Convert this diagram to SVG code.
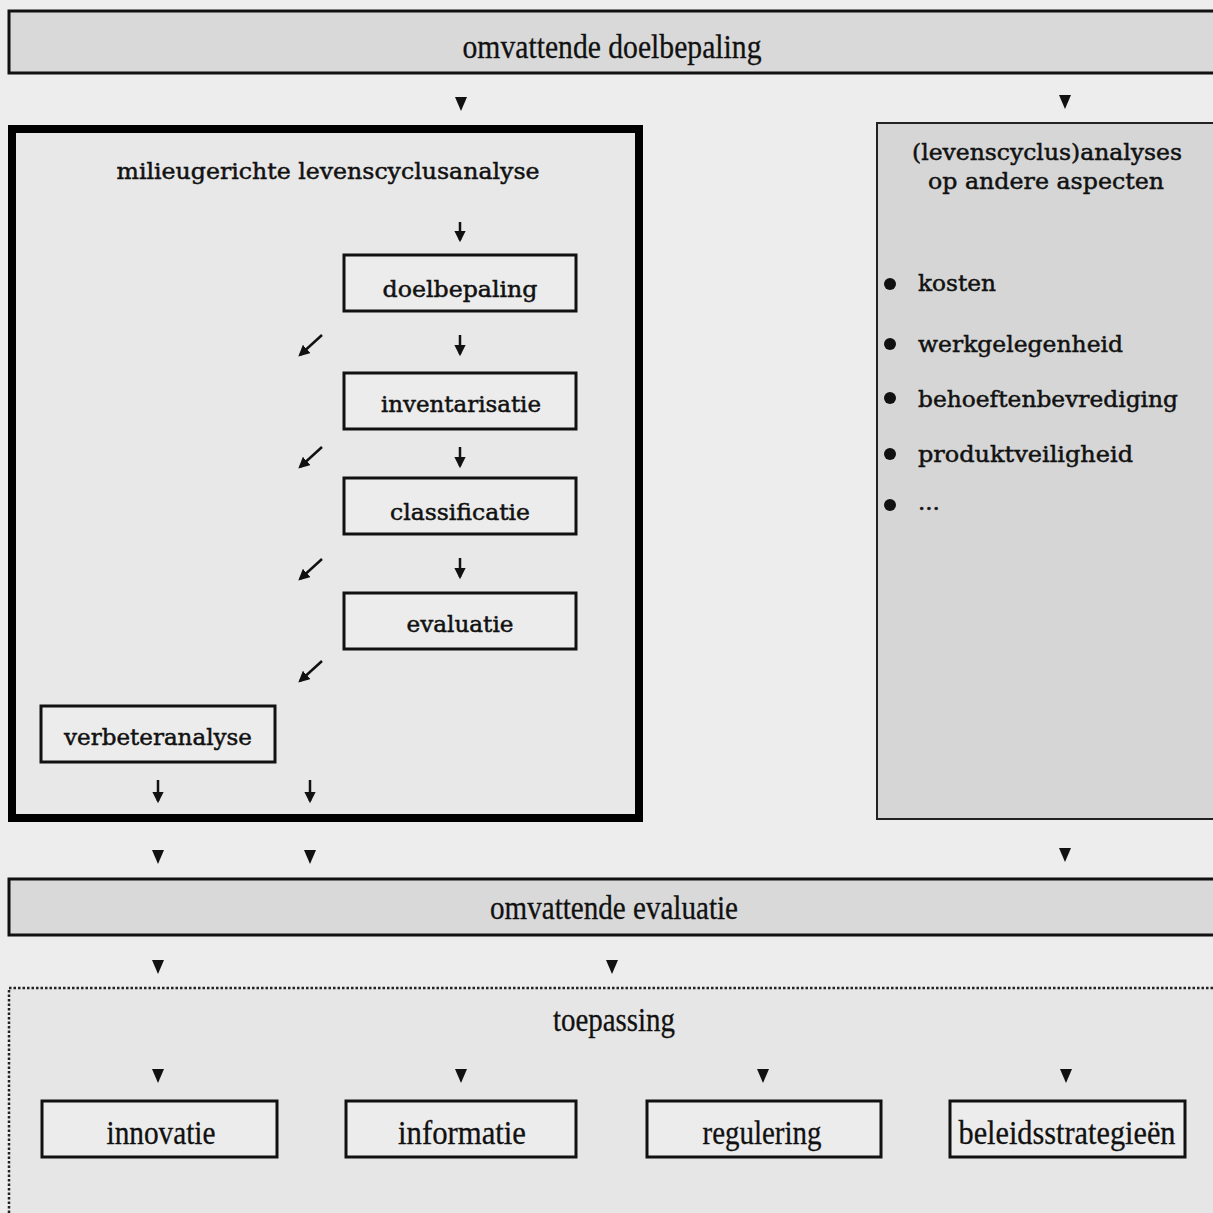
<svg xmlns="http://www.w3.org/2000/svg" width="1213" height="1213" viewBox="0 0 1213 1213">
<defs>
<style>
.shade{fill:#d9d9d9;stroke:#111;stroke-width:3}
.box{fill:#ececec;stroke:#111;stroke-width:3}
.cond{font-family:"Liberation Serif",serif;font-size:33px;fill:#111;text-anchor:middle;stroke:#111;stroke-width:0.3}
.wide{font-family:"DejaVu Serif",serif;font-size:23px;fill:#111;stroke:#111;stroke-width:0.5}
.mid{text-anchor:middle}
.tri{fill:#111}
.arr{stroke:#111;stroke-width:2.5;fill:none}
</style>
<marker id="ah" viewBox="0 0 10 10" refX="8" refY="5" markerWidth="4.5" markerHeight="4.5" orient="auto">
<path d="M0,0 L10,5 L0,10 z" fill="#111"/>
</marker>
<path id="t" d="M-6,-7 L6,-7 L0,7 z"/>
</defs>
<rect width="1213" height="1213" fill="#ededed"/>

<g id="n-omvattende-doelbepaling">
<rect class="shade" x="9" y="11" width="1210" height="62"/>
<text class="cond" x="612" y="58" textLength="299" lengthAdjust="spacingAndGlyphs">omvattende doelbepaling</text>
</g>

<g id="n-lca">
<rect x="12" y="129" width="627" height="689" fill="#e8e8e8" stroke="#000" stroke-width="8"/>
<text class="wide mid" x="328" y="179" textLength="423" lengthAdjust="spacingAndGlyphs">milieugerichte levenscyclusanalyse</text>
</g>

<g id="n-doelbepaling">
<rect class="box" x="344" y="255" width="232" height="56"/>
<text class="wide mid" x="460" y="297" textLength="155" lengthAdjust="spacingAndGlyphs">doelbepaling</text>
</g>
<g id="n-inventarisatie">
<rect class="box" x="344" y="373" width="232" height="56"/>
<text class="wide mid" x="461" y="412" textLength="160" lengthAdjust="spacingAndGlyphs">inventarisatie</text>
</g>
<g id="n-classificatie">
<rect class="box" x="344" y="478" width="232" height="56"/>
<text class="wide mid" x="460" y="520" textLength="140" lengthAdjust="spacingAndGlyphs">classificatie</text>
</g>
<g id="n-evaluatie">
<rect class="box" x="344" y="593" width="232" height="56"/>
<text class="wide mid" x="460" y="632" textLength="107" lengthAdjust="spacingAndGlyphs">evaluatie</text>
</g>
<g id="n-verbeteranalyse">
<rect class="box" x="41" y="706" width="234" height="56"/>
<text class="wide mid" x="158" y="745" textLength="188" lengthAdjust="spacingAndGlyphs">verbeteranalyse</text>
</g>

<g id="n-andere-aspecten">
<rect x="877" y="123" width="340" height="696" fill="#d6d6d6" stroke="#222" stroke-width="2"/>
<text class="wide mid" x="1047" y="160" textLength="270" lengthAdjust="spacingAndGlyphs">(levenscyclus)analyses</text>
<text class="wide mid" x="1046" y="189" textLength="236" lengthAdjust="spacingAndGlyphs">op andere aspecten</text>
<circle cx="890" cy="284" r="6" fill="#111"/>
<text class="wide" x="918" y="291" textLength="78" lengthAdjust="spacingAndGlyphs">kosten</text>
<circle cx="890" cy="344" r="6" fill="#111"/>
<text class="wide" x="918" y="352" textLength="205" lengthAdjust="spacingAndGlyphs">werkgelegenheid</text>
<circle cx="890" cy="398" r="6" fill="#111"/>
<text class="wide" x="918" y="407" textLength="260" lengthAdjust="spacingAndGlyphs">behoeftenbevrediging</text>
<circle cx="890" cy="454" r="6" fill="#111"/>
<text class="wide" x="918" y="462" textLength="215" lengthAdjust="spacingAndGlyphs">produktveiligheid</text>
<circle cx="890" cy="505" r="6" fill="#111"/>
<text class="wide" x="918" y="510" font-size="14">...</text>
</g>

<g id="n-omvattende-evaluatie">
<rect class="shade" x="9" y="879" width="1210" height="56"/>
<text class="cond" x="614" y="919" textLength="248" lengthAdjust="spacingAndGlyphs">omvattende evaluatie</text>
</g>

<g id="n-toepassing">
<rect x="9" y="988" width="1210" height="230" fill="#e6e6e6" stroke="#222" stroke-width="2.5" stroke-dasharray="2.5,2"/>
<text class="cond" x="614" y="1031" textLength="122" lengthAdjust="spacingAndGlyphs">toepassing</text>
</g>

<g id="n-innovatie">
<rect class="box" x="42" y="1101" width="235" height="56"/>
<text class="cond" x="161" y="1144" textLength="109" lengthAdjust="spacingAndGlyphs">innovatie</text>
</g>
<g id="n-informatie">
<rect class="box" x="346" y="1101" width="230" height="56"/>
<text class="cond" x="462" y="1144" textLength="128" lengthAdjust="spacingAndGlyphs">informatie</text>
</g>
<g id="n-regulering">
<rect class="box" x="647" y="1101" width="234" height="56"/>
<text class="cond" x="762" y="1144" textLength="119" lengthAdjust="spacingAndGlyphs">regulering</text>
</g>
<g id="n-beleidsstrategieen">
<rect class="box" x="950" y="1101" width="235" height="56"/>
<text class="cond" x="1067" y="1144" textLength="217" lengthAdjust="spacingAndGlyphs">beleidsstrategieën</text>
</g>

<g id="connectors">
<use href="#t" class="tri" x="461" y="104"/>
<use href="#t" class="tri" x="1065" y="102"/>
<line class="arr" x1="460" y1="222" x2="460" y2="240" marker-end="url(#ah)"/>
<line class="arr" x1="460" y1="335" x2="460" y2="354" marker-end="url(#ah)"/>
<line class="arr" x1="460" y1="447" x2="460" y2="466" marker-end="url(#ah)"/>
<line class="arr" x1="460" y1="558" x2="460" y2="577" marker-end="url(#ah)"/>
<line class="arr" x1="322" y1="335" x2="300" y2="355" marker-end="url(#ah)"/>
<line class="arr" x1="322" y1="447" x2="300" y2="467" marker-end="url(#ah)"/>
<line class="arr" x1="322" y1="559" x2="300" y2="579" marker-end="url(#ah)"/>
<line class="arr" x1="322" y1="661" x2="300" y2="681" marker-end="url(#ah)"/>
<line class="arr" x1="158" y1="780" x2="158" y2="801" marker-end="url(#ah)"/>
<line class="arr" x1="310" y1="780" x2="310" y2="801" marker-end="url(#ah)"/>
<use href="#t" class="tri" x="158" y="857"/>
<use href="#t" class="tri" x="310" y="857"/>
<use href="#t" class="tri" x="1065" y="855"/>
<use href="#t" class="tri" x="158" y="967"/>
<use href="#t" class="tri" x="612" y="967"/>
<use href="#t" class="tri" x="158" y="1076"/>
<use href="#t" class="tri" x="461" y="1076"/>
<use href="#t" class="tri" x="763" y="1076"/>
<use href="#t" class="tri" x="1066" y="1076"/>
</g>
</svg>
